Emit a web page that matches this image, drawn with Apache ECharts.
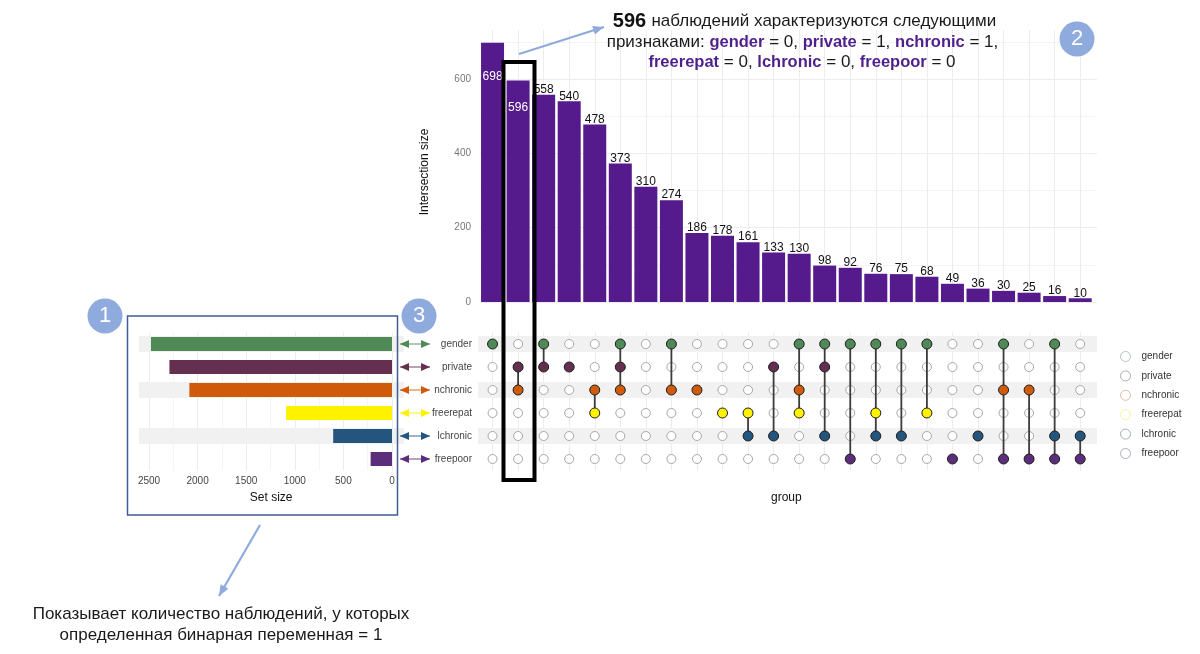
<!DOCTYPE html>
<html><head><meta charset="utf-8">
<style>html,body{margin:0;padding:0;background:#fff}#c{width:1200px;height:654px}</style>
<script src="https://cdn.jsdelivr.net/npm/echarts@6/dist/echarts.min.js"></script>
</head><body><div id="c"></div>
<script>
const setNames = ['gender','private','nchronic','freerepat','lchronic','freepoor'];
const setColors = ['#4f8a56','#652f50','#cf5a0a','#fff200','#24557c','#5c2d7a'];
const legendBorders = ['#a9b5aa','#9c989c','#d4ac90','#f4f08c','#8d99a8','#a097aa'];
const setSizes = [2480,2290,2085,1090,605,220];
const stripes = [1,0,1,0,1,0];
const intersectionSizes = [698,596,558,540,478,373,310,274,186,178,161,133,130,98,92,76,75,68,49,36,30,25,16,10];
const memberships = [[0],[1,2],[0,1],[1],[2,3],[0,1,2],[],[0,2],[2],[3],[3,4],[1,4],[0,2,3],[0,1,4],[0,5],[0,3,4],[0,4],[0,3],[5],[4],[0,2,5],[2,5],[0,4,5],[4,5]];
const FONT = '"Liberation Sans", Arial, sans-serif';
const PURPLE = '#4f1f8c', BLUE = '#8faadc';
const insideLabels = {698:28, 596:21};

const series = [];
series.push({type:'bar',xAxisIndex:1,yAxisIndex:1,barWidth:23,z:3,
  data:intersectionSizes.map((v,i)=>({value:[i+1,v],
    label:insideLabels[v]?{show:true,position:'insideTop',color:'#fff',distance:insideLabels[v],fontSize:12,fontFamily:FONT}
      :{show:true,position:'top',color:'#111',distance:-1,fontSize:12,fontFamily:FONT}})),
  itemStyle:{color:'#551a8b'},label:{formatter:p=>p.value[1]},silent:true});
series.push({type:'line',xAxisIndex:0,yAxisIndex:0,data:[],silent:true});
series.push({type:'bar',xAxisIndex:2,yAxisIndex:2,barWidth:16,data:stripes,itemStyle:{color:'#f1f1f1'},silent:true,z:1});
series.push({type:'bar',xAxisIndex:5,yAxisIndex:5,barWidth:16,data:stripes,itemStyle:{color:'#f1f1f1'},silent:true,z:1});
const allDots=[];
intersectionSizes.forEach((_,i)=>setNames.forEach(s=>allDots.push([i+1,s])));
series.push({type:'scatter',name:'empty',xAxisIndex:3,yAxisIndex:3,symbolSize:9,data:allDots,z:4,silent:true,
  itemStyle:{color:'#fff',borderColor:'#a8a8a8',borderWidth:1,opacity:1}});
memberships.forEach((m,i)=>{ if(m.length>1){
  series.push({type:'line',xAxisIndex:3,yAxisIndex:3,symbol:'none',silent:true,z:5,
    data:[[i+1,setNames[m[0]]],[i+1,setNames[m[m.length-1]]]],lineStyle:{color:'#3c3c3c',width:1.8}});
}});
setNames.forEach((s,k)=>{
  const d=[]; memberships.forEach((m,i)=>{ if(m.includes(k)) d.push([i+1,s]); });
  series.push({type:'scatter',name:s+' dots',xAxisIndex:3,yAxisIndex:3,symbolSize:10,data:d,z:6,silent:true,
    itemStyle:{color:setColors[k],borderColor:'#222',borderWidth:1,opacity:1}});
});
series.push({type:'bar',xAxisIndex:4,yAxisIndex:4,barWidth:14,z:3,silent:true,
  data:setSizes.map((v,k)=>({value:v,itemStyle:{color:setColors[k]}}))});
setNames.forEach(s=>series.push({type:'scatter',name:s,xAxisIndex:3,yAxisIndex:3,data:[]}));

const hidden={show:false};
const g=[];
g.push({type:'rect',z:50,shape:{x:503.5,y:62,width:31,height:418},style:{fill:'none',stroke:'#000',lineWidth:4}});
g.push({type:'rect',z:50,shape:{x:127.5,y:316,width:270,height:199},style:{fill:'none',stroke:'#3f5c94',lineWidth:1.5}});
[[105,316,'1'],[419,316,'3'],[1077,39,'2']].forEach(b=>{
  g.push({type:'circle',z:60,shape:{cx:b[0],cy:b[1],r:17.5},style:{fill:BLUE}});
  g.push({type:'text',z:61,x:b[0],y:b[1],style:{text:b[2],fill:'#fff',font:'22px '+FONT,textAlign:'center',textVerticalAlign:'middle'}});
});
function arrow(x1,y1,x2,y2,col,w,hl,hw,bothEnds){
  const a=Math.atan2(y2-y1,x2-x1),c=Math.cos(a),s=Math.sin(a);
  const head=(x,y,dc,ds)=>[[x,y],[x-hl*dc-hw*ds,y-hl*ds+hw*dc],[x-hl*dc+hw*ds,y-hl*ds-hw*dc]];
  g.push({type:'line',z:55,shape:{x1,y1,x2,y2},style:{stroke:col,lineWidth:w,opacity:bothEnds?0.75:1}});
  g.push({type:'polygon',z:56,shape:{points:head(x2,y2,c,s)},style:{fill:col}});
  if(bothEnds) g.push({type:'polygon',z:56,shape:{points:head(x1,y1,-c,-s)},style:{fill:col}});
}
arrow(519,54,604,27,BLUE,2.2,11,4.5,false);
arrow(260,525,219,596,BLUE,2.2,11,4.5,false);
[344,367,390,413,436,459].forEach((y,k)=>arrow(400,y,430,y,setColors[k],1.2,9,4,true));
const richTop={
  n:{fontSize:17,fontFamily:FONT,fill:'#1a1a1a'},
  b:{fontSize:20,fontWeight:'bold',fontFamily:FONT,fill:'#111',padding:[0,2,0,0]},
  p:{fontSize:16.5,fontWeight:'bold',fontFamily:FONT,fill:PURPLE}
};
function rich(x,y,text){g.push({type:'text',z:62,x,y,style:{text,rich:richTop,textAlign:'center',textVerticalAlign:'middle'}});}
rich(804.5,21,'{b|596} {n|наблюдений характеризуются следующими}');
rich(802.5,42,'{n|признаками: }{p|gender}{n| = 0, }{p|private}{n| = 1, }{p|nchronic}{n| = 1,}');
rich(802,62,'{p|freerepat}{n| = 0, }{p|lchronic}{n| = 0, }{p|freepoor}{n| = 0}');
rich(221,614,'{n|Показывает количество наблюдений, у которых}');
rich(221,635,'{n|определенная бинарная переменная = 1}');

const plain=v=>String(v);
const opt={
  animation:false,backgroundColor:'#fff',textStyle:{fontFamily:FONT},
  legend:{orient:'vertical',left:1120,top:351,padding:0,itemWidth:10,itemHeight:10,itemGap:8.4,icon:'circle',selectedMode:false,
    textStyle:{fontSize:10,color:'#333',fontFamily:FONT,padding:[0,0,0,6]},
    data:setNames.map((s,k)=>({name:s,itemStyle:{color:'#fff',borderColor:legendBorders[k],borderWidth:1}}))},
  grid:[
    {left:480,top:30,width:617,height:272},
    {left:467,top:30,width:638.75,height:272},
    {left:478,top:332.5,width:619,height:138},
    {left:467,top:332.5,width:638.75,height:138},
    {left:139.3,top:332.5,width:252.7,height:138},
    {left:139,top:332.5,width:265,height:138}
  ],
  xAxis:[
    {gridIndex:0,type:'value',min:0,max:1,axisLine:hidden,axisTick:hidden,axisLabel:hidden,splitLine:hidden},
    {gridIndex:1,type:'value',min:0,max:25,interval:1,axisLine:hidden,axisTick:hidden,axisLabel:hidden,
      splitLine:{show:true,showMinLine:false,showMaxLine:false,lineStyle:{color:'#ececec'}}},
    {gridIndex:2,type:'value',min:0,max:1,axisLine:hidden,axisTick:hidden,axisLabel:hidden,splitLine:hidden},
    {gridIndex:3,type:'value',min:0,max:25,interval:1,axisLine:hidden,axisTick:hidden,axisLabel:hidden,
      splitLine:{show:true,showMinLine:false,showMaxLine:false,lineStyle:{color:'#ececec'}},
      name:'group',nameLocation:'middle',nameGap:21,nameTextStyle:{fontSize:12,color:'#111'}},
    {gridIndex:4,type:'value',inverse:true,min:0,max:2600,interval:500,axisLine:hidden,axisTick:hidden,
      axisLabel:{color:'#444',fontSize:10,margin:6,showMaxLabel:false,formatter:plain},
      splitLine:{show:true,showMaxLine:false,lineStyle:{color:'#ececec'}},
      minorTick:{show:false,splitNumber:2},minorSplitLine:{show:true,lineStyle:{color:'#f4f4f4'}},
      name:'Set size',nameLocation:'middle',nameGap:21,nameTextStyle:{fontSize:12,color:'#111',padding:[0,0,0,11]}},
    {gridIndex:5,type:'value',min:0,max:1,axisLine:hidden,axisTick:hidden,axisLabel:hidden,splitLine:hidden}
  ],
  yAxis:[
    {gridIndex:0,type:'value',min:0,max:732,interval:200,axisLine:hidden,axisTick:hidden,
      axisLabel:{color:'#777',fontSize:10,margin:9,showMaxLabel:false},
      splitLine:{show:true,showMaxLine:false,lineStyle:{color:'#ececec'}},
      minorTick:{show:false,splitNumber:2},minorSplitLine:{show:true,lineStyle:{color:'#f3f3f3'}},
      name:'Intersection size',nameLocation:'middle',nameGap:49,nameRotate:90,nameTextStyle:{fontSize:12,color:'#111',padding:[0,12,0,0]}},
    {gridIndex:1,type:'value',min:0,max:732,show:false},
    {gridIndex:2,type:'category',inverse:true,data:setNames,axisLine:hidden,axisTick:hidden,
      axisLabel:{color:'#444',fontSize:10,margin:6},splitLine:hidden},
    {gridIndex:3,type:'category',inverse:true,data:setNames,show:false},
    {gridIndex:4,type:'category',inverse:true,data:setNames,show:false},
    {gridIndex:5,type:'category',inverse:true,data:setNames,show:false}
  ],
  series,
  graphic:{elements:g}
};
echarts.init(document.getElementById('c')).setOption(opt);
</script></body></html>
